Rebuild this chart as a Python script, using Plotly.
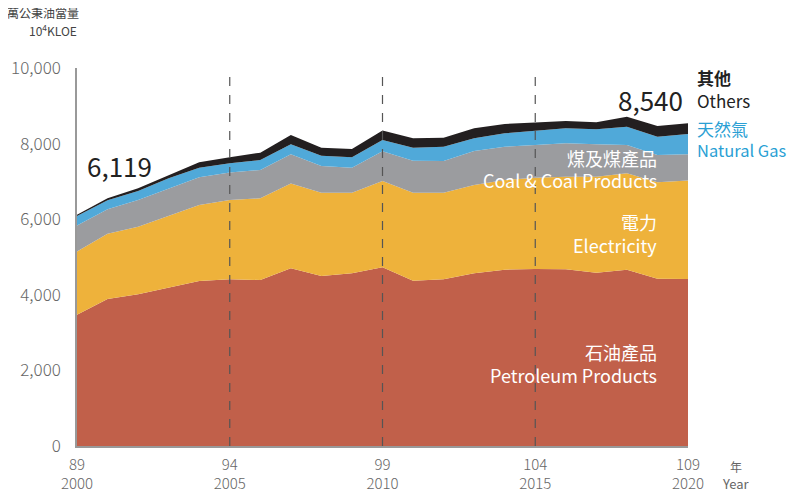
import plotly.graph_objects as go

# 年度 (民國 / 西元)
years = list(range(2000, 2021))
tick_years = [2000, 2005, 2010, 2015, 2020]
tick_text = ["89<br>2000", "94<br>2005", "99<br>2010", "104<br>2015", "109<br>2020"]

# 10^4 KLOE
petroleum = [3473, 3889, 4013, 4188, 4365, 4410, 4392, 4701, 4497, 4569, 4728,
             4373, 4410, 4569, 4664, 4683, 4675, 4585, 4664, 4426, 4421]
electricity = [1675, 1728, 1788, 1897, 2011, 2098, 2161, 2243, 2204, 2132, 2283,
               2328, 2291, 2336, 2373, 2415, 2450, 2540, 2550, 2550, 2601]
coal = [688, 645, 706, 733, 733, 728, 749, 772, 706, 661, 788,
        847, 839, 899, 881, 865, 884, 857, 749, 722, 698]
natural_gas = [246, 238, 238, 265, 254, 243, 265, 265, 272, 275, 296,
               344, 378, 336, 354, 384, 397, 397, 484, 484, 537]
others = [37, 53, 71, 87, 143, 159, 193, 246, 212, 220, 251,
          249, 238, 265, 246, 212, 193, 185, 265, 283, 283]

FONT = "Noto Sans CJK TC"

series = [
    ("石油產品", petroleum, "#c1604a"),
    ("電力", electricity, "#eeb23b"),
    ("煤及煤產品", coal, "#9b9c9f"),
    ("天然氣", natural_gas, "#50a9d9"),
    ("其他", others, "#231f20"),
]

fig = go.Figure()
for name, vals, color in series:
    fig.add_trace(go.Scatter(
        x=years, y=vals,
        name=name,
        mode="lines",
        stackgroup="one",
        line=dict(width=0, color=color),
        fillcolor=color,
        showlegend=False,
    ))

# dashed year markers
for yr in [2005, 2010, 2015]:
    fig.add_shape(type="line", xref="x", yref="paper", x0=yr, x1=yr, y0=0, y1=1,
                  line=dict(color="#555555", width=1.2, dash="dash"), layer="above")

total_start = sum(s[1][0] for s in series)
total_end = sum(s[1][-1] for s in series)


def note(x, y, text, anchor, size, color, xref="paper", yref="paper", **kw):
    return dict(x=x, y=y, xref=xref, yref=yref, text=text, showarrow=False,
                xanchor=anchor, yanchor="middle", font=dict(size=size, color=color), **kw)


annotations = [
    note(2000, total_start, f"{total_start:,}", "left", 26, "#222222", xref="x", yref="y",
         xshift=8, yshift=49),
    note(2020, total_end, f"{total_end:,}", "right", 26, "#222222", xref="x", yref="y",
         xshift=-3, yshift=24),
    note(1.012, 0.974, "<b>其他</b>", "left", 17, "#222222"),
    note(1.012, 0.915, "Others", "left", 17, "#222222"),
    note(1.012, 0.841, "天然氣", "left", 17, "#2a9fd4"),
    note(1.012, 0.783, "Natural Gas", "left", 16.5, "#2a9fd4"),
    note(0.952, 0.762, "煤及煤產品", "right", 18, "white"),
    note(0.952, 0.704, "Coal &amp; Coal Products", "right", 18, "white"),
    note(0.952, 0.593, "電力", "right", 18, "white"),
    note(0.952, 0.532, "Electricity", "right", 18, "white"),
    note(0.952, 0.249, "石油產品", "right", 18, "white"),
    note(0.952, 0.188, "Petroleum Products", "right", 18, "white"),
    # unit labels
    note(-0.118, 1.146, "萬公秉油當量", "left", 12, "#444444"),
    note(0.003, 1.101, "10<sup>4</sup>KLOE", "right", 12, "#444444"),
    note(1.079, -0.053, "年", "center", 12, "#666666"),
    note(1.079, -0.1, "Year", "center", 13, "#666666"),
]

# the page adds an 8px body margin, so the plot area is placed 8px up/left
fig.update_layout(
    width=795,
    height=492,
    margin=dict(l=69, r=115, t=60, b=54),
    paper_bgcolor="white",
    plot_bgcolor="white",
    font=dict(family=FONT, color="#555555"),
    showlegend=False,
    annotations=annotations,
    xaxis=dict(
        range=[2000, 2020],
        tickvals=tick_years,
        ticktext=tick_text,
        showgrid=False,
        zeroline=False,
        showline=True,
        linecolor="#999999",
        linewidth=1.5,
        ticks="",
        automargin=False,
        ticklabelstandoff=4,
        tickfont=dict(size=15, color="#666666", weight=300),
    ),
    yaxis=dict(
        range=[0, 10000],
        tickvals=[0, 2000, 4000, 6000, 8000, 10000],
        tickformat=",d",
        showgrid=False,
        zeroline=False,
        showline=True,
        linecolor="#999999",
        linewidth=1.5,
        ticks="",
        automargin=False,
        ticklabelstandoff=11,
        tickfont=dict(size=17, color="#666666", weight=300),
    ),
)

fig.write_html("out.html")
